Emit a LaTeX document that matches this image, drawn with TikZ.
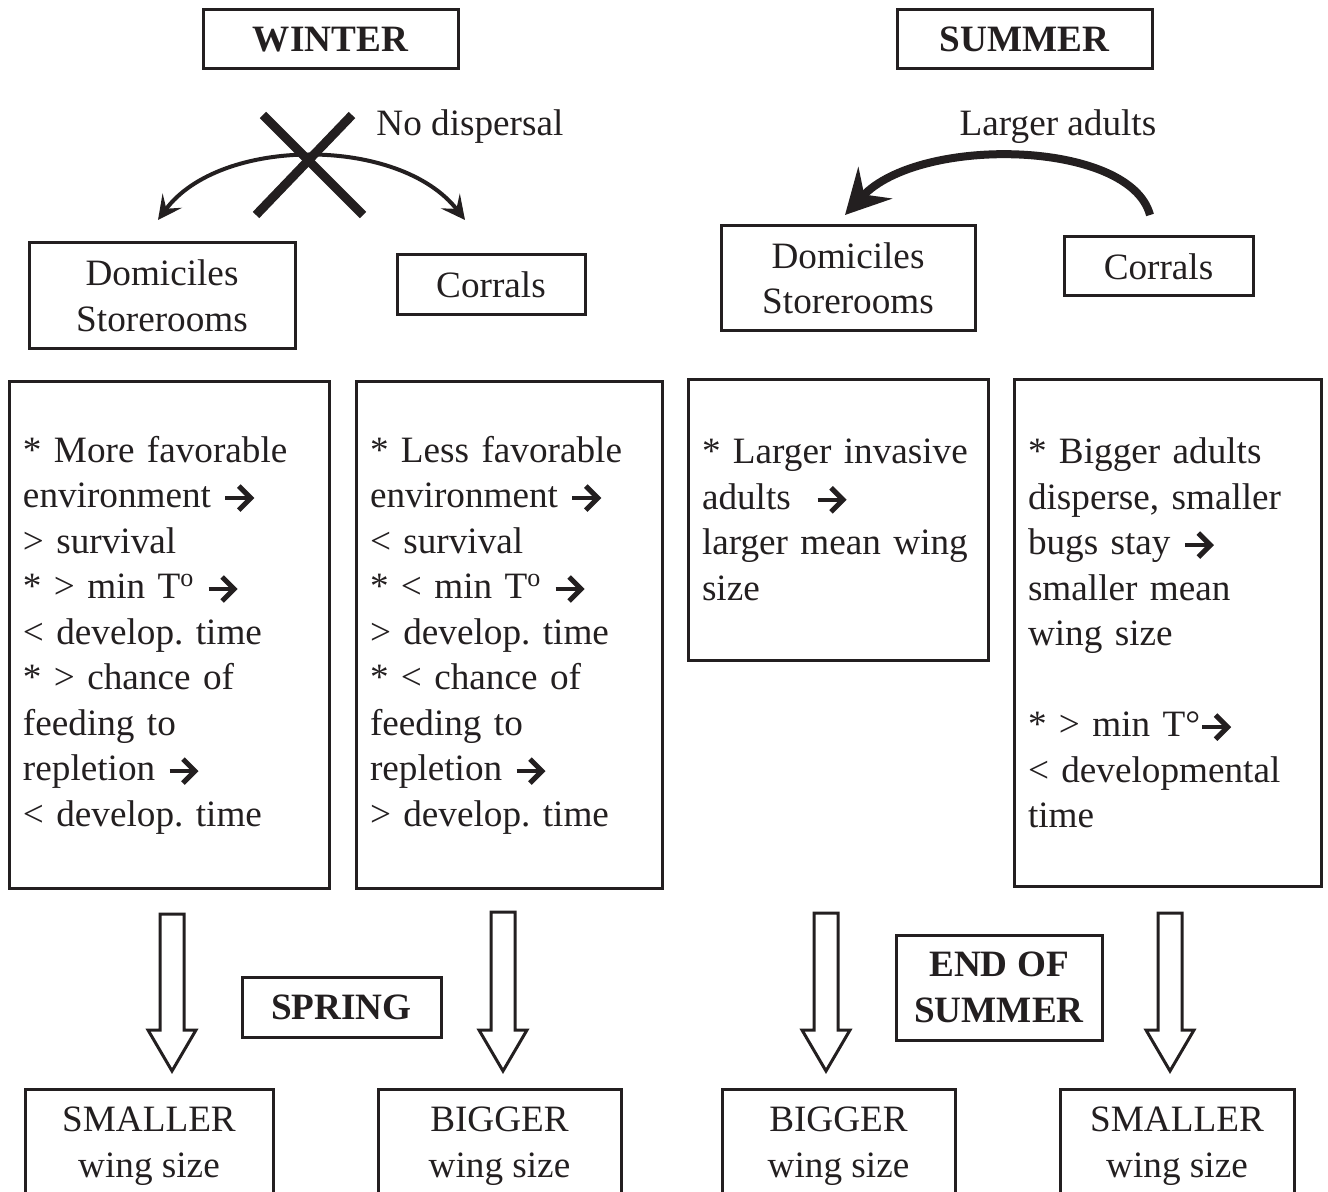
\documentclass[tikz,border=0pt]{standalone}
\usepackage{fontspec}
\setmainfont{Liberation Serif}
\usepackage{xcolor}
\usetikzlibrary{arrows.meta}
\definecolor{ink}{HTML}{231F20}
\newcommand{\nextarr}{\raisebox{4.8pt}{\tikz[baseline=0pt]\draw[draw=ink, line width=1.9pt, -{Straight Barb[length=6pt,width=12pt,line width=2.5pt]}] (0,0) -- (14.5pt,0);}}
\frenchspacing

\tikzset{
    box/.style={draw=ink, line width=1.5pt, text=ink, inner sep=0pt, align=center, font=\fontsize{18.6}{22.75}\selectfont},
    season/.style={box, font=\fontsize{18.6}{22.75}\selectfont\bfseries},
    notebox/.style={box, align=left, inner xsep=7pt},
    hollow/.style={draw=ink, line width=1.5pt, line join=miter, fill=white},
    label/.style={text=ink, inner sep=0pt, font=\fontsize{18.6}{22.75}\selectfont},
}

\begin{document}
\begin{tikzpicture}[x=0.5pt,y=0.5pt,yscale=-1,xscale=1]
    \useasboundingbox (0,0) rectangle (1328,1192);

    % Season titles
    \node (winter) at (330.5,39.5) [season, minimum width=127.5pt, minimum height=29.5pt] {WINTER};
    \node (summer) at (1024.5,39.5) [season, minimum width=127.5pt, minimum height=29.5pt] {SUMMER};

    % Text Node
    \node (wdom) at (162,296) [box, minimum width=133pt, minimum height=53pt] {Domiciles\\Storerooms};
    % Text Node
    \node (wcor) at (491,285) [box, minimum width=94pt, minimum height=30pt] {Corrals};
    % Text Node
    \node (sdom) at (848,278.5) [box, minimum width=127pt, minimum height=52.5pt] {Domiciles\\Storerooms};
    % Text Node
    \node (scor) at (1158.5,266.5) [box, minimum width=94.5pt, minimum height=29.5pt] {Corrals};

    %Winter: no dispersal
    \coordinate (wl) at (158,220);
    \coordinate (wr) at (465,220);
    \draw [draw=ink, line width=2pt, {Stealth[length=12pt,width=12pt,inset=5pt]}-{Stealth[length=12pt,width=12pt,inset=5pt]}] (wl) .. controls (220,136) and (400,136) .. (wr);
    \draw [draw=ink, line width=4.5pt] (263,115) -- (363,215);
    \draw [draw=ink, line width=4.5pt] (352,115) -- (256,215);
    \node (nodisp) at (376,127) [label, anchor=west] {No dispersal};

    %Summer: larger adults move
    \coordinate (sr) at (1150,215);
    \coordinate (sl) at (845,215);
    \draw [draw=ink, line width=4pt, -{Stealth[length=22pt,width=23pt,inset=8pt]}] (sr) .. controls (1130,140) and (920,135) .. (sl);
    \node (larger) at (1058,127) [label] {Larger adults};

    % Notes
    \node (wdomnote) at (169,635) [notebox, minimum width=160pt, minimum height=253pt, text width=146pt]
        {* More favorable\\environment \nextarr\\> survival\\{}* > min T\textsuperscript{o} \nextarr\\< develop. time\\{}* > chance of\\feeding to\\repletion \nextarr\\< develop. time};
    \node (wcornote) at (509,635) [notebox, minimum width=153pt, minimum height=253pt, text width=139pt]
        {* Less favorable\\environment \nextarr\\< survival\\{}* < min T\textsuperscript{o} \nextarr\\> develop. time\\{}* < chance of\\feeding to\\repletion \nextarr\\> develop. time};
    \node (sdomnote) at (838,520) [notebox, minimum width=150pt, minimum height=140pt, text width=136pt]
        {* Larger invasive\\adults~~\nextarr\\larger mean wing\\size};
    \node (scornote) at (1167.5,633) [notebox, minimum width=153.5pt, minimum height=253pt, text width=139.5pt]
        {* Bigger adults\\disperse, smaller\\bugs stay \nextarr\\smaller mean\\wing size\\[22.75pt]{}* > min T°\nextarr\\< developmental\\time};

    %Hollow arrows
    \foreach \x/\t in {172/914, 503/912, 826/913, 1170/913}
        \draw [hollow] (\x-12,\t) -- (\x+12,\t) -- (\x+12,1030) -- (\x+24,1030) -- (\x,1071) -- (\x-24,1030) -- (\x-12,1030) -- cycle;

    % Text Node
    \node (spring) at (341.5,1007) [season, minimum width=99.5pt, minimum height=30pt] {SPRING};
    \node (endsummer) at (999,987.5) [season, minimum width=103pt, minimum height=52.5pt] {END OF\\SUMMER};

    % Results
    \node (res1) at (149,1146) [box, minimum width=124pt, minimum height=57pt] {SMALLER\\wing size};
    \node (res2) at (499.5,1146) [box, minimum width=121.5pt, minimum height=57pt] {BIGGER\\wing size};
    \node (res3) at (838.5,1146) [box, minimum width=116.5pt, minimum height=57pt] {BIGGER\\wing size};
    \node (res4) at (1177,1146) [box, minimum width=117pt, minimum height=57pt] {SMALLER\\wing size};

\end{tikzpicture}
\end{document}
